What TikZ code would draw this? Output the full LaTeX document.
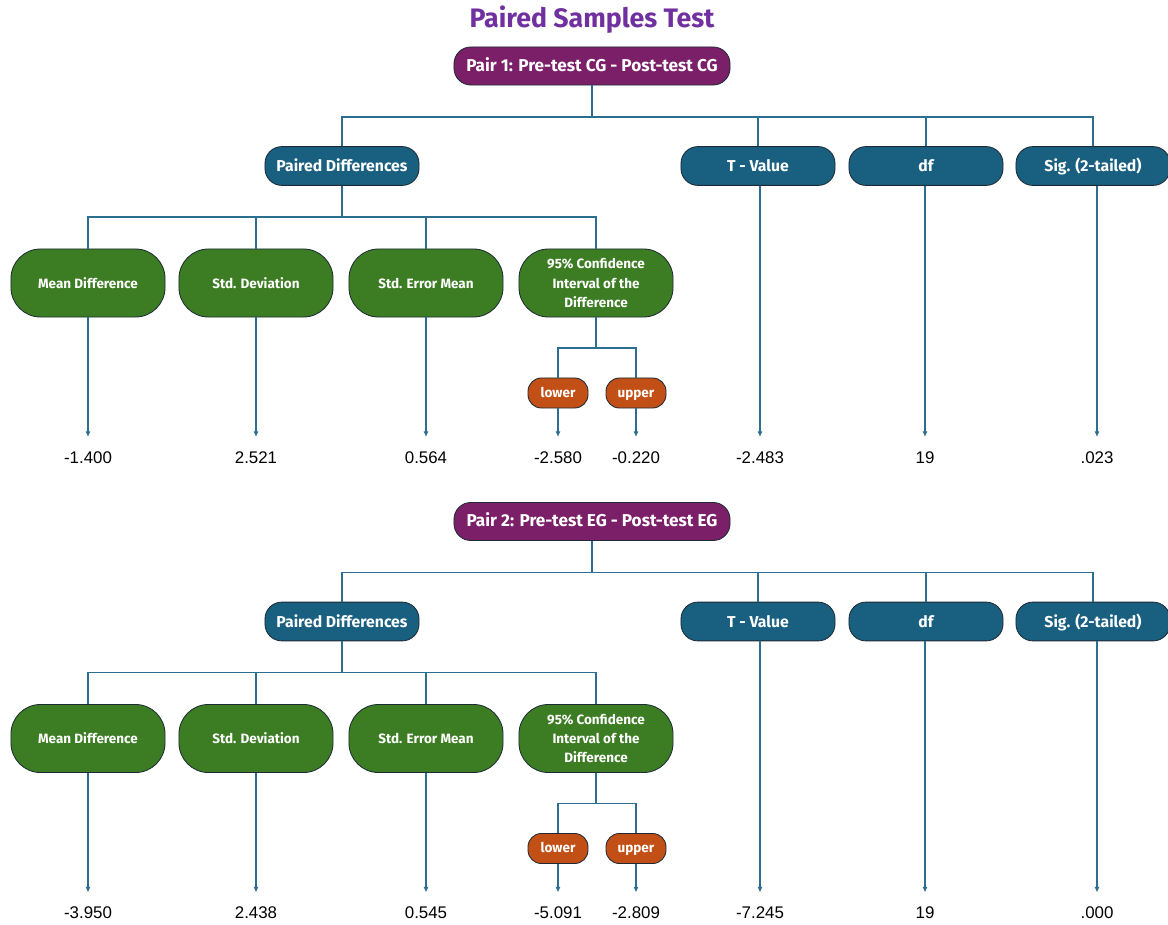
\documentclass[tikz,border=0pt]{standalone}
\usepackage{fontspec}
\setmainfont{Liberation Sans}
\newfontfamily\lblfont{Fira Sans}
\usetikzlibrary{positioning,arrows.meta,calc}
\definecolor{pstitle}{HTML}{7030A0}
\definecolor{pspair}{HTML}{7A1F68}
\definecolor{pshead}{HTML}{195F80}
\definecolor{psstat}{HTML}{3C7D23}
\definecolor{psbound}{HTML}{C24F16}
\definecolor{psedge}{HTML}{1E2B36}
\definecolor{psline}{HTML}{2C6E90}
\tikzset{
  ps box/.style={draw=psedge, line width=0.6pt, text=white, align=center, inner sep=1pt,
                 font=\lblfont\bfseries},
  ps pair/.style={ps box, fill=pspair, rounded corners=12pt, minimum width=6.9cm, minimum height=0.95cm,
                  text height=1.7ex, text depth=0.35ex, font=\lblfont\bfseries\fontsize{12.2}{14}\selectfont},
  ps head/.style={ps box, fill=pshead, rounded corners=12pt, minimum width=3.85cm, minimum height=0.97cm,
                  text height=1.8ex, text depth=0.3ex, font=\lblfont\bfseries\fontsize{11.2}{13}\selectfont},
  ps stat/.style={ps box, fill=psstat, rounded corners=21pt, minimum width=3.85cm, minimum height=1.7cm,
                  font=\lblfont\bfseries\fontsize{9.6}{13.8}\selectfont},
  ps bound/.style={ps box, fill=psbound, rounded corners=9.5pt, minimum width=1.5cm, minimum height=0.75cm,
                   text height=1.6ex, text depth=0.4ex, font=\lblfont\bfseries\fontsize{9.6}{11}\selectfont},
  ps val/.style={anchor=north, inner xsep=0pt, inner ysep=10pt, font=\fontsize{12}{14}\selectfont},
  ps line/.style={psline, line width=0.8pt},
  ps arr/.style={ps line, -{Latex[length=4pt,width=3.6pt]}},
}
\begin{document}
\begin{tikzpicture}[x=0.025cm, y=-0.025cm]
  \useasboundingbox (0,0) rectangle (1168,925);
  \node[font=\lblfont\bfseries\fontsize{19}{21}\selectfont, text=pstitle] (title) at (592,20) {Paired Samples Test};
  \foreach \k/\yo/\pname/\vmd/\vsd/\vse/\vlo/\vup/\vt/\vdf/\vsig in {
      1/0/{Pair 1: Pre-test CG - Post-test CG}/-1.400/2.521/0.564/-2.580/-0.220/-2.483/19/.023,
      2/455.5/{Pair 2: Pre-test EG - Post-test EG}/-3.950/2.438/0.545/-5.091/-2.809/-7.245/19/.000} {
    % top level
    \node[ps pair] (pair\k) at (592,66+\yo) {\pname};
    \node[ps head] (pd\k) at (342,166+\yo) {Paired Differences};
    \node[ps head] (tv\k) at (758,166+\yo) {T - Value};
    \node[ps head] (df\k) at (926,166+\yo) {df};
    \node[ps head] (sig\k) at (1093,166+\yo) {Sig. (2-tailed)};
    \coordinate (bus\k) at (592,117+\yo);
    \draw[ps line] (pair\k.south) -- (bus\k);
    \draw[ps line] (pd\k.north) |- (bus\k) -| (sig\k.north);
    \draw[ps line] (bus\k -| tv\k.north) -- (tv\k.north);
    \draw[ps line] (bus\k -| df\k.north) -- (df\k.north);
    % paired differences
    \node[ps stat] (md\k) at (88,283+\yo) {Mean Difference};
    \node[ps stat] (sd\k) at (256,283+\yo) {Std. Deviation};
    \node[ps stat] (se\k) at (426,283+\yo) {Std. Error Mean};
    \node[ps stat] (ci\k) at (596,283+\yo) {95\% Confidence\\Interval of the\\Difference};
    \coordinate (sub\k) at (342,217+\yo);
    \draw[ps line] (pd\k.south) -- (sub\k);
    \draw[ps line] (md\k.north) |- (sub\k) -| (ci\k.north);
    \draw[ps line] (sub\k -| sd\k.north) -- (sd\k.north);
    \draw[ps line] (sub\k -| se\k.north) -- (se\k.north);
    % bounds
    \node[ps bound] (lo\k) at (558,393+\yo) {lower};
    \node[ps bound] (up\k) at (636,393+\yo) {upper};
    \coordinate (cib\k) at (596,348+\yo);
    \draw[ps line] (ci\k.south) -- (cib\k);
    \draw[ps line] (lo\k.north) |- (cib\k) -| (up\k.north);
    % values
    \foreach \n/\x/\v in {md/88/\vmd, sd/256/\vsd, se/426/\vse, lo/558/\vlo, up/636/\vup, tv/760/\vt, df/925/\vdf, sig/1097/\vsig} {
      \node[ps val] (v\n\k) at (\x,437+\yo) {\v};
      \draw[ps arr] (\n\k.south -| v\n\k.north) -- (v\n\k.north);
    }
  }
\end{tikzpicture}
\end{document}
